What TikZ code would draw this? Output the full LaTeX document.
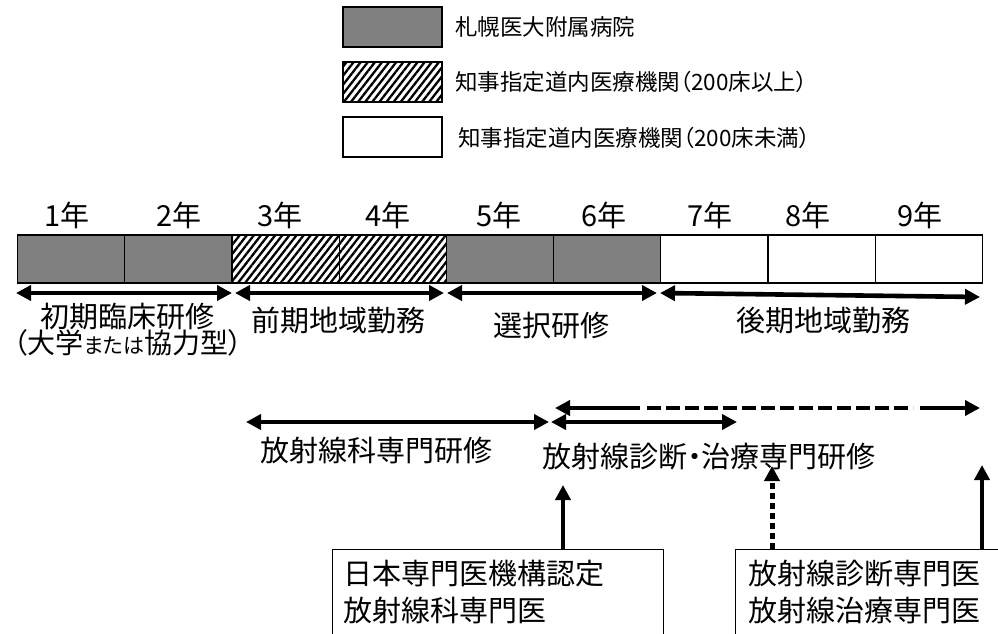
\documentclass[tikz,border=0pt]{standalone}
\usepackage{fontspec}
\setmainfont[RawFeature=+palt]{Noto Sans CJK JP}
\usetikzlibrary{arrows.meta,patterns.meta}
\definecolor{midgray}{HTML}{808080}
\tikzset{
  every node/.style={font=\fontsize{29}{35}\selectfont, inner sep=0pt},
  legtext/.style={anchor=west, font=\fontsize{22.5}{27}\selectfont},
  legbox/.style={draw, line width=1.8pt, minimum width=99pt, minimum height=40pt},
  cell/.style={draw, line width=1.2pt},
  grayfill/.style={fill=midgray},
  hatchfill/.style={pattern={Lines[angle=52,distance=5.6pt,line width=2.3pt]}},
  tipA/.tip={Triangle[length=15pt,width=15pt]},
  spanarrow/.style={line width=4.6pt, tipA-tipA},
  uparrow/.style={line width=4.8pt, -{Triangle[length=15pt,width=15pt]}},
  dotarrow/.style={line width=5pt, dash pattern=on 6pt off 4pt, -{Triangle[length=15pt,width=15pt]}},
  framebox/.style={draw, line width=1.3pt, anchor=north west}
}
\begin{document}
\begin{tikzpicture}[x=1pt,y=-1pt]
\useasboundingbox (0,0) rectangle (998,633);
\clip (0,0) rectangle (998,633);
\fill[white] (0,0) rectangle (998,633);

% legend
\node[legbox, grayfill] (lg1) at (392.5,27) {};
\node[legbox, hatchfill] (lg2) at (392.5,82) {};
\node[legbox, fill=white] (lg3) at (392.5,137) {};
\node[legtext] (lt1) at (455,27) {札幌医大附属病院};
\node[legtext] (lt2) at (455,82) {知事指定道内医療機関（200床以上）};
\node[legtext] (lt3) at (458,138) {知事指定道内医療機関（200床未満）};

% bar
\foreach \i in {0,1,4,5} {
  \path[cell, grayfill] (17.5+107.2*\i,235) rectangle ++(107.2,48);
}
\foreach \i in {2,3} {
  \path[cell, hatchfill] (17.5+107.2*\i,235) rectangle ++(107.2,48);
}
\foreach \i in {6,7,8} {
  \path[cell, fill=white] (17.5+107.2*\i,235) rectangle ++(107.2,48);
}

% year labels
\node (y1) at (67,215) {1年};
\node (y2) at (179,215) {2年};
\node (y3) at (280,215) {3年};
\node (y4) at (388,215) {4年};
\node (y5) at (499,215) {5年};
\node (y6) at (604,215) {6年};
\node (y7) at (710,215) {7年};
\node (y8) at (808,215) {8年};
\node (y9) at (920,215) {9年};

% span arrows
\coordinate (a0) at (16,293);
\coordinate (a1) at (232,293);
\coordinate (a2) at (235,293);
\coordinate (a3) at (444,293);
\coordinate (a4) at (447,293);
\coordinate (a5) at (657,293);
\coordinate (a6) at (660,293);
\coordinate (a7) at (980,297);
\draw[spanarrow] (a0) -- (a1);
\draw[spanarrow] (a2) -- (a3);
\draw[spanarrow] (a4) -- (a5);
\draw[spanarrow] (a6) -- (a7);

\node (s1) at (127,317) {初期臨床研修};
\node[font=\fontsize{28}{34}\selectfont] (s1b) at (128,343) {（大学{\fontsize{21}{26}\selectfont または}協力型）};
\node (s2) at (338,320) {前期地域勤務};
\node (s3) at (551,326) {選択研修};
\node (s4) at (823,321) {後期地域勤務};

% specialist training
\coordinate (b0) at (246,422);
\coordinate (b1) at (549,422);
\coordinate (b2) at (551,422);
\coordinate (b3) at (737,422);
\draw[spanarrow] (b0) -- (b1);
\draw[spanarrow] (b2) -- (b3);

\coordinate (c0) at (555,408);
\coordinate (c1) at (640,408);
\coordinate (c2) at (647,408);
\coordinate (c3) at (913,408);
\coordinate (c4) at (920,408);
\coordinate (c5) at (980,408);
\draw[line width=4.6pt, tipA-] (c0) -- (c1);
\draw[line width=4.6pt, dash pattern=on 14pt off 5pt] (c2) -- (c3);
\draw[line width=4.6pt, -tipA] (c4) -- (c5);

\node (t1) at (376,451) {放射線科専門研修};
\node (t2) at (709,457) {放射線診断・治療専門研修};

% boxes
\node[framebox, minimum width=331pt, minimum height=120pt] (box1) at (332,549) {};
\node[framebox, minimum width=300pt, minimum height=120pt] (box2) at (735,549) {};
\node[anchor=west] (bt1) at (343,574) {日本専門医機構認定};
\node[anchor=west] (bt2) at (343,610) {放射線科専門医};
\node[anchor=west] (bt3) at (748,574) {放射線診断専門医};
\node[anchor=west] (bt4) at (748,610) {放射線治療専門医};

% vertical arrows
\coordinate (u1) at (563,485);
\coordinate (u2) at (772,466);
\coordinate (u3) at (982,465);
\draw[uparrow] (box1.north -| u1) -- (u1);
\draw[dotarrow] (box2.north -| u2) -- (u2);
\draw[uparrow] (box2.north -| u3) -- (u3);
\end{tikzpicture}
\end{document}
